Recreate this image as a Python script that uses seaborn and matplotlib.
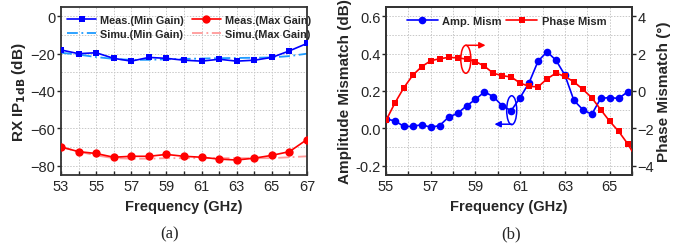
import matplotlib
matplotlib.use("Agg")
import matplotlib.pyplot as plt
from matplotlib.patches import Ellipse
from matplotlib.ticker import MultipleLocator, FormatStrFormatter
import seaborn as sns

# ---- panel (a) data ----
freq_a = [53, 54, 55, 56, 57, 58, 59, 60, 61, 62, 63, 64, 65, 66, 67]
meas_min = [-18, -20, -19.5, -22.5, -24, -22, -22.5, -23.5, -24, -23, -24, -23.5, -22, -18.5, -14.5]
simu_min = [-19.5, -20.5, -21.8, -22.8, -23.3, -23.3, -23.0, -22.8, -22.6, -22.4, -22.3, -22.2, -22.0, -21.3, -20.0]
meas_max = [-70, -72.5, -73.5, -75.5, -75, -75, -74, -75, -75.5, -76.5, -77, -76, -74.5, -72.5, -66]
simu_max = [-70, -72.5, -74.5, -76, -76.3, -76.3, -76, -76, -76, -76, -76, -76, -76, -75.5, -75]
ticks_a = [53, 55, 57, 59, 61, 63, 65, 67]

# ---- panel (b) data ----
freq_b = [55.0, 55.4, 55.8, 56.2, 56.6, 57.0, 57.4, 57.8, 58.2, 58.6, 59.0, 59.4, 59.8, 60.2,
          60.6, 61.0, 61.4, 61.8, 62.2, 62.6, 63.0, 63.4, 63.8, 64.2, 64.6, 65.0, 65.4, 65.8]
amp_mism = [0.05, 0.04, 0.01, 0.01, 0.02, 0.005, 0.015, 0.06, 0.08, 0.12, 0.155, 0.195, 0.17, 0.12,
            0.095, 0.165, 0.245, 0.36, 0.41, 0.365, 0.285, 0.15, 0.10, 0.075, 0.16, 0.165, 0.16, 0.195]
freq_ph = freq_b + [66.2]
phase_mism = [-1.58, -0.64, 0.18, 0.85, 1.31, 1.62, 1.73, 1.80, 1.78, 1.71, 1.58, 1.33, 0.95, 0.82,
              0.75, 0.42, 0.25, 0.22, 0.65, 0.96, 0.78, 0.49, 0.09, -0.36, -1.0, -1.62, -2.16, -2.82, -3.6]
ticks_b = [55, 57, 59, 61, 63, 65]

sns.set_style("ticks")
plt.rcParams["font.family"] = ["Liberation Sans", "DejaVu Sans"]

BLUE = "#0000FF"
RED = "#FF0000"
LBLUE = "#1E9BFF"
PINK = "#FF9A9A"
DASHDOT = (0, (6, 2, 1, 2))

fig = plt.figure(figsize=(6.93, 2.51), dpi=100)
ax1 = fig.add_axes([0.088, 0.299, 0.355, 0.669])
axb = fig.add_axes([0.557, 0.299, 0.355, 0.669])

# ------------------ panel (a) ------------------
sns.lineplot(x=freq_a, y=simu_min, ax=ax1, color=LBLUE, lw=1.3, linestyle=DASHDOT,
             label="Simu.(Min Gain)", zorder=2)
sns.lineplot(x=freq_a, y=simu_max, ax=ax1, color=PINK, lw=1.3, linestyle=DASHDOT,
             label="Simu.(Max Gain)", zorder=2)
sns.lineplot(x=freq_a, y=meas_min, ax=ax1, color=BLUE, lw=1.2, marker="s", markersize=5,
             markeredgewidth=0, label="Meas.(Min Gain)", zorder=3)
sns.lineplot(x=freq_a, y=meas_max, ax=ax1, color=RED, lw=1.2, marker="o", markersize=6,
             markeredgewidth=0, label="Meas.(Max Gain)", zorder=3)

ax1.set_xlim(53, 67)
ax1.set_ylim(-85, 5)
ax1.set_xticks(ticks_a)
ax1.xaxis.set_minor_locator(MultipleLocator(1))
ax1.yaxis.set_major_locator(MultipleLocator(20))
ax1.yaxis.set_minor_locator(MultipleLocator(10))
ax1.set_xlabel("Frequency (GHz)", fontsize=10.5, fontweight="bold")
ax1.set_ylabel("RX IP$_{\\mathbf{1dB}}$ (dB)", fontsize=11, fontweight="bold", labelpad=2)

h, l = ax1.get_legend_handles_labels()
order = [2, 0, 3, 1]
ax1.legend([h[i] for i in order], [l[i] for i in order], ncol=2, loc="upper left",
           bbox_to_anchor=(0.0, 0.99), frameon=False, prop={"weight": "bold", "size": 7.8},
           handlelength=2.6, columnspacing=0.8, labelspacing=0.35, handletextpad=0.4,
           borderaxespad=0.2)

# ------------------ panel (b) ------------------
axp = axb.twinx()
sns.lineplot(x=freq_b, y=amp_mism, ax=axb, color=BLUE, lw=1.2, marker="o", markersize=5.5,
             markeredgewidth=0, zorder=3, legend=False)
sns.lineplot(x=freq_ph, y=phase_mism, ax=axp, color=RED, lw=1.2, marker="s", markersize=4.5,
             markeredgewidth=0, zorder=3, legend=False)

axb.set_xlim(55, 66)
axb.set_ylim(-0.25, 0.65)
axp.set_ylim(-4.5, 4.5)
axb.set_xticks(ticks_b)
axb.xaxis.set_minor_locator(MultipleLocator(1))
axb.yaxis.set_major_locator(MultipleLocator(0.2))
axb.yaxis.set_minor_locator(MultipleLocator(0.1))
axp.yaxis.set_major_locator(MultipleLocator(2))
axb.set_xlabel("Frequency (GHz)", fontsize=10.5, fontweight="bold")
axb.set_ylabel("Amplitude Mismatch (dB)", fontsize=11, fontweight="bold", labelpad=2)
axp.set_ylabel("Phase Mismatch (°)", fontsize=11, fontweight="bold", labelpad=2)
axb.yaxis.set_major_formatter(FormatStrFormatter("%.1f"))

# annotations: ellipses and arrows
axp.add_patch(Ellipse((58.57, 1.7), 0.45, 1.5, fill=False, edgecolor=RED, lw=1.1, zorder=4))
axp.annotate("", xy=(59.45, 2.45), xytext=(58.57, 2.45),
             arrowprops=dict(arrowstyle="-|>", color=RED, lw=1.1, mutation_scale=9,
                             shrinkA=0, shrinkB=0))
axb.add_patch(Ellipse((60.62, 0.097), 0.45, 0.155, fill=False, edgecolor=BLUE, lw=1.1, zorder=4))
axb.annotate("", xy=(59.85, 0.022), xytext=(60.62, 0.022),
             arrowprops=dict(arrowstyle="-|>", color=BLUE, lw=1.1, mutation_scale=9,
                             shrinkA=0, shrinkB=0))

hb = axb.get_lines()[:1] + axp.get_lines()[:1]
axb.legend(hb, ["Amp. Mism", "Phase Mism"], ncol=2, loc="upper center",
           bbox_to_anchor=(0.49, 0.985), frameon=False, prop={"weight": "bold", "size": 8},
           handlelength=2.8, columnspacing=0.4, handletextpad=0.4, borderaxespad=0.2)

# common styling
for ax in (ax1, axb):
    ax.grid(True, which="both", linestyle=(0, (1.5, 1.5)), color="#c8c8c8", lw=0.7)
    ax.tick_params(axis="x", which="both", direction="in", length=3, width=1,
                   labelsize=10.5, pad=3, top=False)
    ax.tick_params(axis="y", which="major", direction="out", length=3, width=1,
                   labelsize=10.5, pad=1)
    ax.tick_params(axis="y", which="minor", left=False)
    ax.set_axisbelow(True)
axp.tick_params(axis="y", which="major", direction="out", length=3, width=1,
                labelsize=10.5, pad=1)
for ax in (ax1, axb, axp):
    for s in ax.spines.values():
        s.set_visible(True)
        s.set_linewidth(1.3)
        s.set_color("#333333")

fig.text(0.245, 0.035, "(a)", fontsize=12, family=["Liberation Serif", "DejaVu Serif"],
         ha="center", va="bottom")
fig.text(0.738, 0.035, "(b)", fontsize=12, family=["Liberation Serif", "DejaVu Serif"],
         ha="center", va="bottom")

fig.savefig("out.png", dpi=100)
